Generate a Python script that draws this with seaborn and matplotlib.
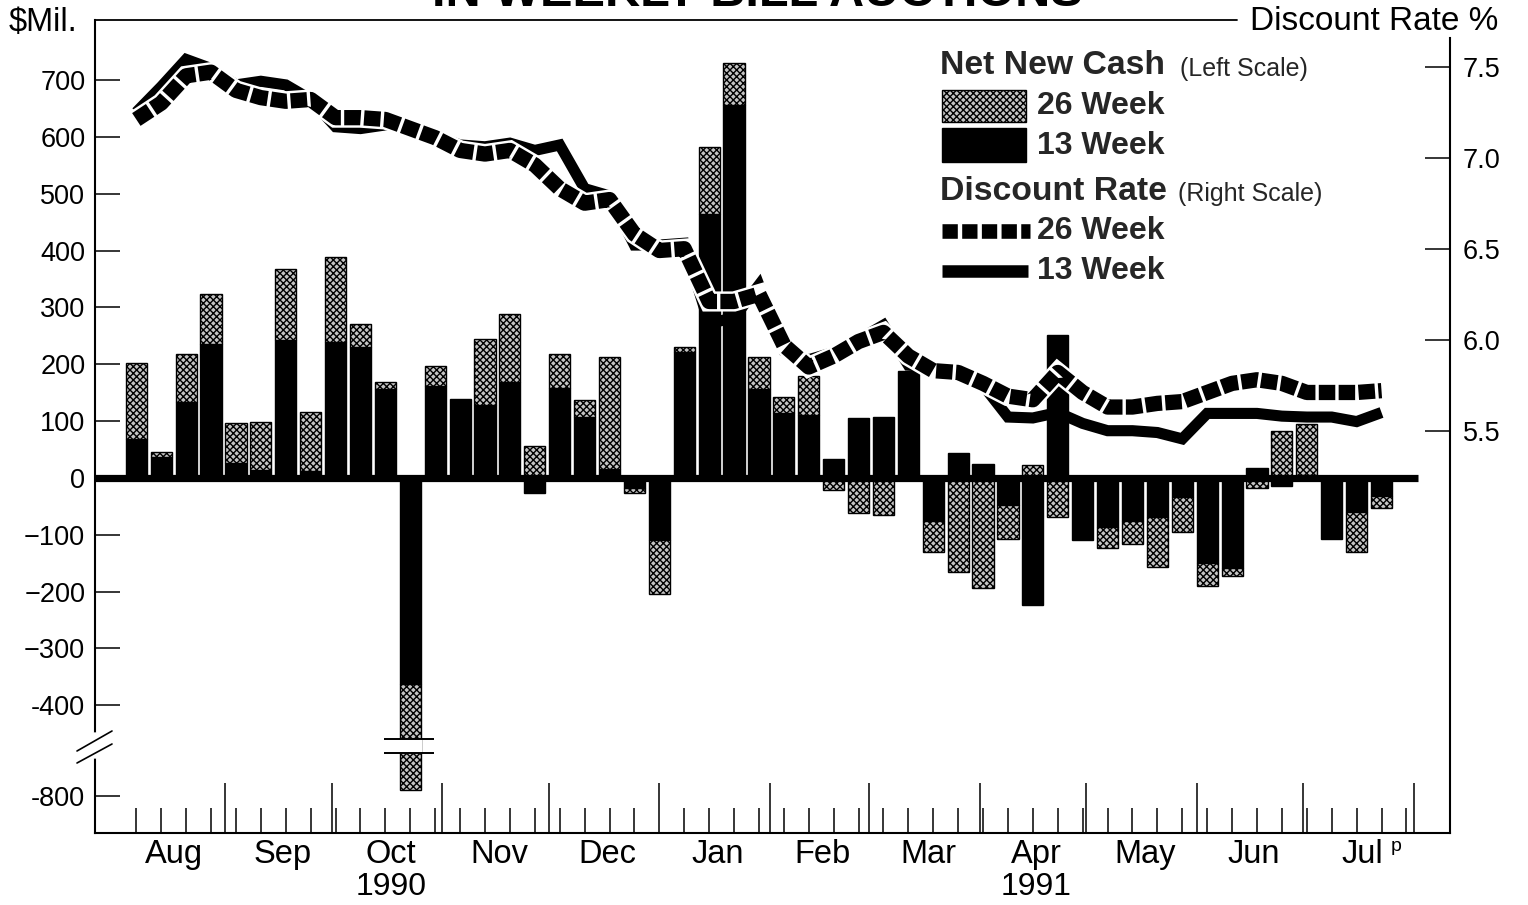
import numpy as np
import pandas as pd
import matplotlib
matplotlib.use("Agg")
import matplotlib.pyplot as plt
import seaborn as sns
from matplotlib.lines import Line2D
from matplotlib.patches import Rectangle
from matplotlib.ticker import FixedLocator, NullLocator

# ---------------- data ----------------
weeks = pd.date_range("1990-08-06", periods=51, freq="7D")

cash_13wk = [68, 36, 133, 235, 26, 14, 243, 12, 239, 230, 156, -363, 161, 139, 129, 169,
             -26, 158, 108, 16, -17, -109, 221, 465, 657, 157, 115, 110, 34, 106, 108, 189,
             -76, 44, 25, -48, -224, 252, -109, -86, -75, -69, -33, -150, -158, 18, -14, 5,
             -108, -60, -32]
cash_26wk = [134, 10, 85, 88, 70, 84, 125, 104, 149, 41, 12, -427, 36, 0, 115, 120,
             56, 60, 29, 196, -9, -95, 9, 118, 73, 55, 28, 70, -22, -62, -66, 0,
             -55, -165, -193, -60, 23, -68, 0, -37, -41, -88, -62, -41, -15, -17, 83, 90,
             0, -70, -21]
rate_26wk = [7.21, 7.30, 7.45, 7.47, 7.37, 7.33, 7.31, 7.32, 7.22, 7.22, 7.21, 7.16, 7.11,
             7.04, 7.02, 7.04, 6.96, 6.83, 6.75, 6.77, 6.58, 6.49, 6.50, 6.21, 6.21, 6.25,
             5.97, 5.85, 5.91, 5.99, 6.04, 5.91, 5.83, 5.82, 5.76, 5.69, 5.67, 5.82, 5.71,
             5.63, 5.63, 5.65, 5.66, 5.71, 5.76, 5.78, 5.76, 5.71, 5.71, 5.71, 5.72]
rate_13wk = [7.25, 7.39, 7.54, 7.49, 7.40, 7.42, 7.40, 7.32, 7.17, 7.16, 7.18, 7.18, 7.12,
             7.07, 7.06, 7.08, 7.04, 7.07, 6.83, 6.79, 6.52, 6.52, 6.53, 6.09, 6.12, 6.30,
             5.94, 5.89, 5.93, 6.00, 6.08, 5.86, 5.85, 5.83, 5.75, 5.575, 5.57, 5.60, 5.54,
             5.50, 5.50, 5.49, 5.455, 5.595, 5.595, 5.595, 5.58, 5.575, 5.575, 5.55, 5.60]

month_labels = ["Aug", "Sep", "Oct", "Nov", "Dec", "Jan", "Feb", "Mar", "Apr", "May", "Jun", "Jul"]
year_labels = {"Oct": "1990", "Apr": "1991"}
left_ticks = [700, 600, 500, 400, 300, 200, 100, 0, -100, -200, -300, -400, -800]
left_tick_labels = ["700", "600", "500", "400", "300", "200", "100", "0",
                    "\u2212100", "\u2212200", "\u2212300", "-400", "-800"]
right_ticks = [5.5, 6.0, 6.5, 7.0, 7.5]
right_tick_labels = ["5.5", "6.0", "6.5", "7.0", "7.5"]

# ---------------- style ----------------
sns.set_theme(style="white")
plt.rcParams["font.family"] = ["Liberation Sans", "DejaVu Sans"]
plt.rcParams["hatch.linewidth"] = 1.0
plt.rcParams["hatch.color"] = "black"

STIPPLE_FACE = "#c4c4c4"
STIPPLE_HATCH = "xxxxx"

W, H = 1528, 905
fig = plt.figure(figsize=(W / 100, H / 100), dpi=100)
fig.patch.set_facecolor("white")

def fx(px):
    return px / W

def fy(py):
    return 1 - py / H

ax = fig.add_axes([fx(95), fy(833), (1450 - 95) / W, (833 - 20) / H])
ax.set_facecolor("white")

# broken left scale (-400 ... -800 compressed)
BRK_HI, BRK_LO, GAP_EFF = -460.0, -724.0, 24.0
SHIFT = (BRK_HI - BRK_LO) - GAP_EFF

def fwd(v):
    v = np.asarray(v, dtype=float)
    mid = BRK_HI + (v - BRK_HI) * GAP_EFF / (BRK_HI - BRK_LO)
    return np.where(v >= BRK_HI, v, np.where(v <= BRK_LO, v + SHIFT, mid))

def inv(e):
    e = np.asarray(e, dtype=float)
    mid = BRK_HI + (e - BRK_HI) * (BRK_HI - BRK_LO) / GAP_EFF
    return np.where(e >= BRK_HI, e, np.where(e <= BRK_LO + SHIFT, e - SHIFT, mid))

ax.set_yscale("function", functions=(fwd, inv))
ax.set_ylim(-865, 806)

x = np.arange(len(weeks))
v13 = np.array(cash_13wk, dtype=float)
v26 = np.array(cash_26wk, dtype=float)
bottom26 = np.where(np.sign(v13) == np.sign(v26), v13, 0.0)

BW = 0.85
ax.bar(x, v13, width=BW, color="black", edgecolor="black", linewidth=1, zorder=2)
ax.bar(x, v26, bottom=bottom26, width=BW, facecolor=STIPPLE_FACE, edgecolor="black",
       hatch=STIPPLE_HATCH, linewidth=1, zorder=2)

# zero baseline
ax.plot([-1.7, len(weeks) + 0.47], [0, 0], color="black", lw=5.2, solid_capstyle="butt", zorder=3)

# break on the large October bar
ib = int(np.argmin(v13 + v26))
ax.fill_between([ib - BW / 2 - 0.05, ib + BW / 2 + 0.05], BRK_HI, BRK_LO, color="white", zorder=2.5, lw=0)
ax.hlines([BRK_HI, BRK_LO], ib - 1.05, ib + 0.95, color="black", lw=1.4, zorder=3)

ax.set_xlim(-1.66, 52.75)

# left ticks
ax.yaxis.set_major_locator(FixedLocator(left_ticks))
ax.yaxis.set_minor_locator(NullLocator())
ax.set_yticklabels(left_tick_labels)
ax.tick_params(axis="y", which="major", direction="in", length=18, width=1.1,
               labelsize=19.5, pad=7, colors="black", left=True)

# x ticks: weekly short, month boundaries tall
start = weeks[0]
month_starts = pd.date_range("1990-08-01", "1991-08-01", freq="MS")
bounds = month_starts[1:] - pd.Timedelta(days=1)
bpos = np.asarray((bounds - start).days, dtype=float) / 7.0
ax.xaxis.set_major_locator(FixedLocator(bpos))
ax.xaxis.set_minor_locator(FixedLocator(np.arange(len(weeks) + 1)))
ax.set_xticklabels([""] * len(bpos))
ax.tick_params(axis="x", which="major", direction="in", length=36, width=1.1, bottom=True, colors="black")
ax.tick_params(axis="x", which="minor", direction="in", length=18, width=1.1, bottom=True, colors="black")

ms_days = np.asarray((month_starts - start).days, dtype=float) / 7.0
mids = (ms_days[:-1] + ms_days[1:]) / 2
xt = ax.get_xaxis_transform()
for m, lab in zip(mids, month_labels):
    ax.text(m, -0.027, lab, transform=xt, ha="center", va="center", fontsize=23.5, color="black")
    if lab in year_labels:
        ax.text(m, -0.067, year_labels[lab], transform=xt, ha="center", va="center", fontsize=23, color="black")
ax.text(mids[-1] + 1.15, -0.017, "p", transform=xt, ha="left", va="center", fontsize=14, color="black")

for s in ["top", "right"]:
    ax.spines[s].set_visible(False)
for s in ["left", "bottom"]:
    ax.spines[s].set_color("black")
    ax.spines[s].set_linewidth(1.5)

# ---------------- right scale: discount rates ----------------
ax2 = ax.twinx()
r_top = 7.5 + (66.7 - 20) / 182
r_bot = 7.5 - (833 - 66.7) / 182
rates = pd.DataFrame({"week": x, "r13": rate_13wk, "r26": rate_26wk})

sns.lineplot(data=rates, x="week", y="r13", ax=ax2, color="black", lw=8,
             solid_capstyle="butt", solid_joinstyle="miter", zorder=4)
sns.lineplot(data=rates, x="week", y="r26", ax=ax2, color="white", lw=14.5,
             solid_capstyle="butt", solid_joinstyle="miter", zorder=5)
sns.lineplot(data=rates, x="week", y="r26", ax=ax2, color="black", lw=11,
             solid_capstyle="butt", zorder=6)
dl = ax2.lines[-1]
dl.set_dashes([1.08, 0.22])
dl.set_dash_capstyle("butt")

ax2.set_ylim(r_bot, r_top)
ax2.set_xlim(-1.66, 52.75)
ax2.set_xlabel("")
ax2.set_ylabel("")
ax.set_xlabel("")
ax.set_ylabel("")
ax2.yaxis.set_major_locator(FixedLocator(right_ticks))
ax2.set_yticklabels(right_tick_labels)
ax2.tick_params(axis="y", direction="in", length=18, width=1.1, labelsize=19.5, pad=9,
                colors="black", right=True)
for s in ["top", "left", "bottom"]:
    ax2.spines[s].set_visible(False)
ax2.spines["right"].set_color("black")
ax2.spines["right"].set_linewidth(1.5)
ax2.spines["right"].set_bounds(r_bot, 7.5 + (66.7 - 38) / 182)
ax2.grid(False)
ax.grid(False)

# ---------------- frame extras ----------------
fig.add_artist(Line2D([fx(95), fx(1237)], [fy(20), fy(20)], color="black", lw=1.3))
fig.add_artist(Line2D([fx(95), fx(95)], [fy(735), fy(756)], color="white", lw=4))
fig.add_artist(Line2D([fx(77), fx(112)], [fy(751), fy(731)], color="black", lw=1.2))
fig.add_artist(Line2D([fx(77), fx(112)], [fy(763), fy(744)], color="black", lw=1.2))

fig.text(fx(9), fy(23), "\\$Mil.", ha="left", va="center", fontsize=23.5, color="black")
fig.text(fx(1250), fy(21), "Discount Rate %", ha="left", va="center", fontsize=24, color="black")

# title, cut off at the top edge as in the source
fig.text(fx(757), fy(6), "IN WEEKLY BILL AUCTIONS", ha="center", va="baseline",
         fontsize=35, fontweight="bold", color="black")

# ---------------- legend ----------------
fig.text(fx(940), fy(66), "Net New Cash", ha="left", va="center", fontsize=24.3, fontweight="bold")
fig.text(fx(1180), fy(69), "(Left Scale)", ha="left", va="center", fontsize=18)
fig.add_artist(Rectangle((fx(942), fy(122)), fx(84), 32 / H, transform=fig.transFigure,
                         facecolor=STIPPLE_FACE, edgecolor="black", hatch=STIPPLE_HATCH, lw=1))
fig.text(fx(1037), fy(106), "26 Week", ha="left", va="center", fontsize=23, fontweight="bold")
fig.add_artist(Rectangle((fx(942), fy(162)), fx(84), 34 / H, transform=fig.transFigure,
                         facecolor="black", edgecolor="black", lw=1))
fig.text(fx(1037), fy(146), "13 Week", ha="left", va="center", fontsize=23, fontweight="bold")
fig.text(fx(940), fy(191), "Discount Rate", ha="left", va="center", fontsize=24.3, fontweight="bold")
fig.text(fx(1178), fy(194), "(Right Scale)", ha="left", va="center", fontsize=18)
leg_dash = Line2D([fx(942), fx(1030)], [fy(231), fy(231)], color="black", lw=10.5,
                  solid_capstyle="butt")
leg_dash.set_dashes([1.05, 0.3])
leg_dash.set_dash_capstyle("butt")
fig.add_artist(leg_dash)
fig.text(fx(1037), fy(231), "26 Week", ha="left", va="center", fontsize=23, fontweight="bold")
fig.add_artist(Line2D([fx(942), fx(1028)], [fy(271), fy(271)], color="black", lw=9,
                      solid_capstyle="butt"))
fig.text(fx(1037), fy(271), "13 Week", ha="left", va="center", fontsize=23, fontweight="bold")

fig.savefig("out.png", dpi=100, facecolor="white")
